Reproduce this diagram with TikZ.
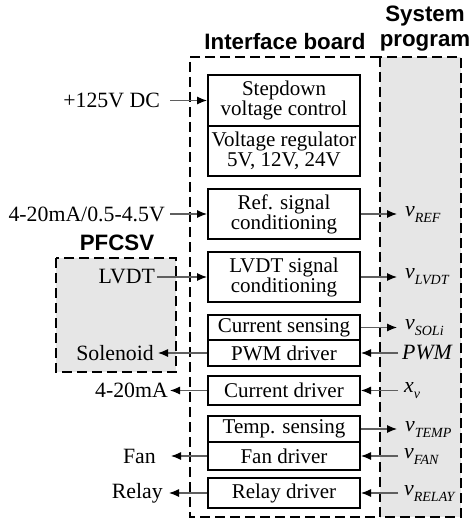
\documentclass[tikz,border=0pt]{standalone}
\usepackage{fontspec}
\setmainfont{Liberation Serif}
\setsansfont{Liberation Sans}
\usetikzlibrary{arrows.meta,positioning}
\definecolor{boxgray}{RGB}{230,230,230}
\definecolor{siggray}{RGB}{95,95,95}
\tikzset{
    blk/.style={draw, line width=2pt, minimum width=152pt, align=center, inner sep=0pt, font=\fontsize{21}{20}\selectfont},
    dbox/.style={line width=2.5pt, dash pattern=on 10pt off 5pt},
    sig/.style={draw=siggray, line width=1.1pt, -{Latex[length=10pt,width=8pt,black]}},
    lbl/.style={inner ysep=1pt, inner xsep=2pt, font=\fontsize{21.8}{20}\selectfont},
    ttl/.style={font=\sffamily\bfseries\fontsize{22.3}{25}\selectfont, align=center},
}
\newcommand{\sig}[2]{\textit{#1}\raisebox{-6pt}{\fontsize{14}{14}\selectfont\textit{#2}}}
\begin{document}
\begin{tikzpicture}[x=1pt, y=-1pt]
    \useasboundingbox (0,0) rectangle (473,518);
    % System program and PFCSV areas
    \filldraw[dbox, fill=boxgray] (380,57) rectangle (461,517);
    \filldraw[dbox, fill=boxgray] (56,258) rectangle (176,372);
    \draw[dbox] (380,57) -- (190,57) -- (190,517) -- (380,517);
    \node[ttl] (tboard) at (285,42) {Interface board};
    \node[ttl] (tprog) at (425,29) {System\\program};
    \node[ttl] (tpfc) at (117,243) {PFCSV};

    % Interface board blocks
    \node[blk, minimum height=51pt] (step) at (284,100.5) {Stepdown\\voltage control};
    \node[blk, minimum height=50pt] (reg) at (284,151) {Voltage regulator\\5V, 12V, 24V};
    \node[blk, minimum height=50pt] (ref) at (284,214) {Ref. signal\\conditioning};
    \node[blk, minimum height=50pt] (lvdt) at (284,277) {LVDT signal\\conditioning};
    \node[blk, minimum height=25pt] (cursens) at (284,327.5) {Current sensing};
    \node[blk, minimum height=26pt] (pwm) at (284,353) {PWM driver};
    \node[blk, minimum height=29pt] (curdrv) at (284,390.5) {Current driver};
    \node[blk, minimum height=26pt] (temp) at (284,429) {Temp. sensing};
    \node[blk, minimum height=28pt] (fan) at (284,456) {Fan driver};
    \node[blk, minimum height=30pt] (relay) at (284,493) {Relay driver};

    % Left side signals
    \node[lbl, inner xsep=10pt, left=37pt of step] (indc) {+125V DC};
    \node[lbl, inner xsep=5pt, left=37pt of ref] (inref) {4-20mA/0.5-4.5V};
    \node[lbl, left=50pt of lvdt] (inlvdt) {LVDT};
    \node[lbl, inner xsep=4pt, left=49pt of pwm] (outsol) {Solenoid};
    \node[lbl, left=37pt of curdrv] (outma) {4-20mA};
    \node[lbl, inner xsep=15pt, left=36pt of fan] (outfan) {Fan};
    \node[lbl, inner xsep=6pt, left=38pt of relay] (outrelay) {Relay};
    \draw[sig] (indc) -- (step);
    \draw[sig] (inref) -- (ref);
    \draw[sig] (inlvdt) -- (lvdt);
    \draw[sig] (pwm) -- (outsol);
    \draw[sig] (curdrv) -- (outma);
    \draw[sig] (fan) -- (outfan);
    \draw[sig] (relay) -- (outrelay);

    % Right side signals
    \node[lbl, inner xsep=8pt, right=36pt of ref] (vref) {\sig{v}{REF}};
    \node[lbl, inner xsep=8pt, right=36pt of lvdt] (vlvdt) {\sig{v}{LVDT}};
    \node[lbl, inner xsep=8pt, right=36pt of cursens] (vsol) {\sig{v}{SOLi}};
    \node[lbl, inner xsep=4pt, right=37pt of pwm] (inpwm) {\textit{PWM}};
    \node[lbl, inner xsep=6pt, right=37pt of curdrv] (inxv) {\sig{x}{v}};
    \node[lbl, inner xsep=8pt, right=36pt of temp] (vtemp) {\sig{v}{TEMP}};
    \node[lbl, inner xsep=6pt, right=37pt of fan] (vfan) {\sig{v}{FAN}};
    \node[lbl, inner xsep=6pt, right=37pt of relay] (vrelay) {\sig{v}{RELAY}};
    \draw[sig] (ref) -- (vref);
    \draw[sig] (lvdt) -- (vlvdt);
    \draw[sig] (cursens) -- (vsol);
    \draw[sig] (inpwm) -- (pwm);
    \draw[sig] (inxv) -- (curdrv);
    \draw[sig] (temp) -- (vtemp);
    \draw[sig] (vfan) -- (fan);
    \draw[sig] (vrelay) -- (relay);
\end{tikzpicture}
\end{document}
